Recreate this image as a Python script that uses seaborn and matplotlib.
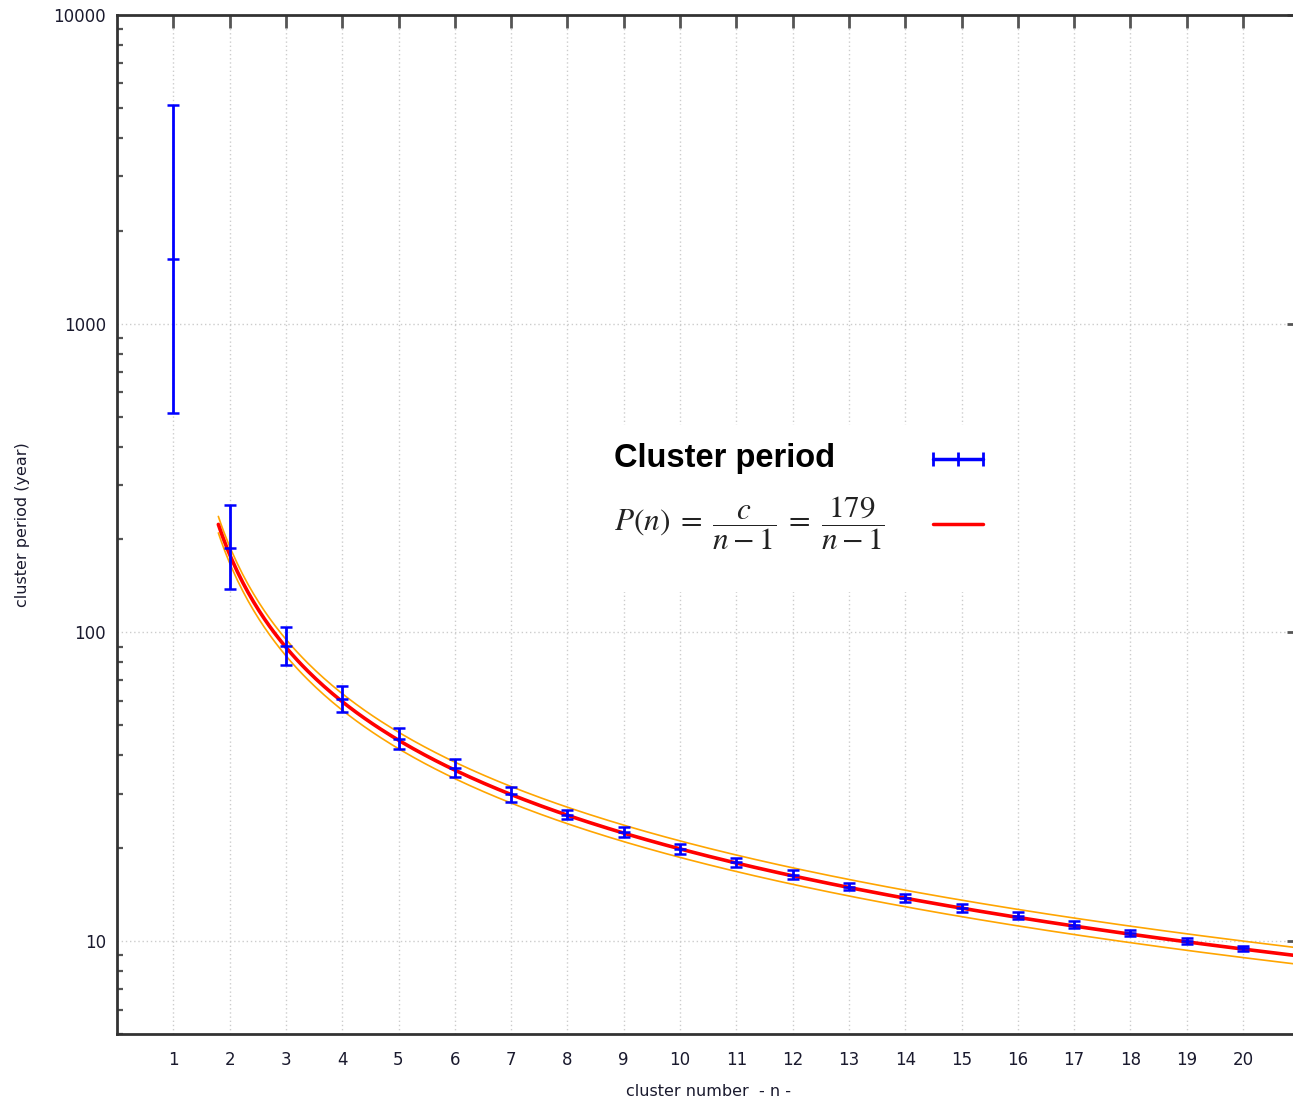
import numpy as np
import pandas as pd
import matplotlib
matplotlib.use("Agg")
import matplotlib.pyplot as plt
import seaborn as sns
from matplotlib.lines import Line2D
from matplotlib.patches import Rectangle
from matplotlib.ticker import LogLocator, NullFormatter

# measured cluster periods (year) with lower / upper error limits
n_cluster = [1, 2, 3, 4, 5, 6, 7, 8, 9, 10, 11, 12, 13, 14, 15, 16, 17, 18, 19, 20]
period = [1623, 187, 90.3, 60.7, 45.1, 36.3, 29.9, 25.6, 22.5, 19.9,
          18.0, 16.4, 15.0, 13.8, 12.8, 12.1, 11.3, 10.6, 10.0, 9.47]
period_low = [515, 138, 78.2, 55.2, 41.8, 33.9, 28.3, 24.9, 21.7, 19.2,
              17.4, 15.9, 14.6, 13.4, 12.45, 11.8, 11.0, 10.35, 9.75, 9.27]
period_high = [5117, 259, 104, 66.8, 48.9, 39.0, 31.6, 26.5, 23.4, 20.6,
               18.6, 16.95, 15.45, 14.2, 13.15, 12.4, 11.6, 10.85, 10.25, 9.67]

# fit P(n) = c / (n - 1) with its band
c_fit = 179
c_band = [168, 190]
n_fit = np.linspace(1.8, 21.0, 400)

legend_labels = ["Cluster period",
                 r"$P(n)\;=\;\dfrac{c}{n-1}\;=\;\dfrac{179}{n-1}$"]

df = pd.DataFrame({"n": n_cluster, "P": period, "lo": period_low, "hi": period_high})
fit = pd.DataFrame({"n": n_fit, "P": c_fit / (n_fit - 1)})

sns.set_style("white")
plt.rcParams["font.family"] = ["DejaVu Sans"]
plt.rcParams["mathtext.fontset"] = "stix"

fig = plt.figure(figsize=(12.93, 10.99), dpi=100)
# axes runs a little past the right edge of the picture, like the original
ax = fig.add_axes([117 / 1293, 65 / 1099, 1182 / 1293, 1019 / 1099])

# orange band lines
for cb in c_band:
    ax.plot(n_fit, cb / (n_fit - 1), color="#ffa500", lw=1.2, zorder=2)
sns.lineplot(data=fit, x="n", y="P", color="red", lw=2.6, ax=ax, zorder=3)

yerr = [df["P"] - df["lo"], df["hi"] - df["P"]]
ax.errorbar(df["n"], df["P"], yerr=yerr, fmt="none", ecolor="blue",
            elinewidth=2.0, capsize=4.5, capthick=1.8, zorder=4)
ax.plot(df["n"], df["P"], ls="none", marker="_", ms=9, mew=1.8, color="blue", zorder=4)

ax.set_yscale("log")
ax.set_ylim(5, 10000)
ax.set_xlim(0, 1182 / 56.3)
ax.set_xticks(range(1, 21))
ax.set_yticks([10, 100, 1000, 10000])
ax.set_yticklabels(["10", "100", "1000", "10000"])
ax.yaxis.set_minor_locator(LogLocator(base=10, subs=np.arange(2, 10)))
ax.yaxis.set_minor_formatter(NullFormatter())

ax.grid(True, which="major", color="#cccccc", ls=(0, (1, 2)), lw=1.0)
ax.tick_params(axis="both", which="major", direction="in", length=9, width=2,
               color="#555555", labelsize=12, labelcolor="#1a1a2e", top=True, right=True)
ax.tick_params(axis="y", which="minor", direction="in", length=4, width=1.6,
               color="#555555", left=True, right=False)
ax.tick_params(axis="x", pad=12)
ax.tick_params(axis="y", pad=8)
for side in ["left", "bottom", "top"]:
    ax.spines[side].set_color("#333333")
    ax.spines[side].set_linewidth(2)
ax.spines["right"].set_visible(False)

ax.set_xlabel("cluster number  - n -", fontsize=11.5, color="#1a1a2e", labelpad=11)
ax.set_ylabel("cluster period (year)", fontsize=11.5, color="#1a1a2e", labelpad=17)

# key: white box, labels on the left, symbols on the right
ax.add_patch(Rectangle((0.4086, 0.4338), 0.3384, 0.1639, transform=ax.transAxes,
                       facecolor="white", edgecolor="none", zorder=1))
ax.text(0.4205, 0.5643, legend_labels[0], transform=ax.transAxes, ha="left", va="center",
        fontsize=23.5, fontweight="bold", family="Liberation Sans", color="black", zorder=5)
ax.text(0.4205, 0.5015, legend_labels[1], transform=ax.transAxes, ha="left", va="center",
        fontsize=22.5, color="#222222", zorder=5)

h_err = Line2D([], [], color="blue", lw=2.5, marker="|", ms=10, mew=2)
h_fit = Line2D([], [], color="red", lw=2.5)
leg = ax.legend([h_err, h_fit], ["", ""], loc="center left",
                bbox_to_anchor=(0.6825, 0.530), numpoints=3, fontsize=22,
                handlelength=2.25, handletextpad=0, labelspacing=1.17,
                borderpad=0, borderaxespad=0, frameon=False)

fig.savefig("out.png", dpi=100)
